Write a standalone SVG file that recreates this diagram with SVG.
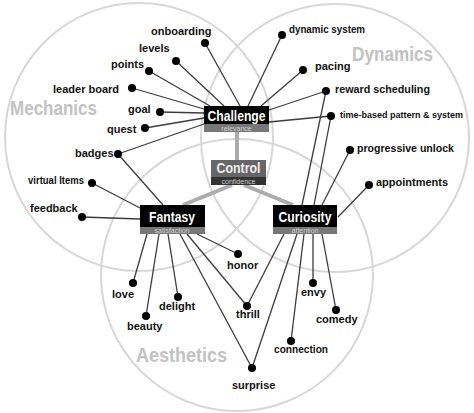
<svg xmlns="http://www.w3.org/2000/svg" width="474" height="413" viewBox="0 0 474 413">
<style>
.c{fill:none;stroke:#d7d7d7;stroke-width:2}
.t{font-family:"Liberation Sans",Arial,sans-serif;font-weight:bold;fill:#c2c2c2;font-size:19.5px}
.l{font-family:"Liberation Sans",Arial,sans-serif;font-weight:bold;font-size:11px;fill:#111}
.d{fill:#000}
.e{stroke:#3c3c3c;stroke-width:1.3;fill:none}
.k{stroke:#ababab;stroke-width:4;fill:none}
.nt{font-family:"Liberation Sans",Arial,sans-serif;font-weight:bold;font-size:14px;fill:#fff;text-anchor:middle}
.st{font-family:"Liberation Sans",Arial,sans-serif;font-size:7px;fill:#cfcfcf;text-anchor:middle}
</style>
<rect width="474" height="413" fill="#fff"/>
<g id="circles">
<circle class="c" cx="139" cy="137" r="134"/>
<circle class="c" cx="335" cy="138" r="134"/>
<circle class="c" cx="237" cy="275" r="136"/>
<text class="t" x="10" y="115" textLength="87" lengthAdjust="spacingAndGlyphs">Mechanics</text>
<text class="t" x="352" y="61" textLength="81" lengthAdjust="spacingAndGlyphs">Dynamics</text>
<text class="t" x="136" y="362" textLength="91" lengthAdjust="spacingAndGlyphs">Aesthetics</text>
</g>
<g id="connectors">
<line class="k" x1="237" y1="132" x2="237" y2="160"/>
<line class="k" x1="232" y1="185" x2="183" y2="205"/>
<line class="k" x1="244" y1="185" x2="293" y2="205"/>
<line class="e" x1="205" y1="43" x2="240" y2="106"/>
<line class="e" x1="176" y1="61" x2="224" y2="106"/>
<line class="e" x1="149" y1="71" x2="210" y2="106"/>
<line class="e" x1="132" y1="88" x2="204" y2="109"/>
<line class="e" x1="160" y1="112" x2="204" y2="113"/>
<line class="e" x1="145" y1="128" x2="204" y2="118"/>
<line class="e" x1="118" y1="154" x2="204" y2="124"/>
<line class="e" x1="282" y1="35" x2="248" y2="106"/>
<line class="e" x1="303" y1="70" x2="261" y2="106"/>
<line class="e" x1="326" y1="91" x2="269" y2="110"/>
<line class="e" x1="331" y1="116" x2="269" y2="122"/>
<line class="e" x1="118" y1="154" x2="163" y2="205"/>
<line class="e" x1="92" y1="183" x2="140" y2="208"/>
<line class="e" x1="82" y1="217" x2="140" y2="219"/>
<line class="e" x1="147" y1="234" x2="133" y2="283"/>
<line class="e" x1="159" y1="234" x2="146" y2="316"/>
<line class="e" x1="168" y1="234" x2="178" y2="297"/>
<line class="e" x1="180" y1="234" x2="252" y2="368"/>
<line class="e" x1="187" y1="234" x2="247" y2="306"/>
<line class="e" x1="197" y1="234" x2="238" y2="254"/>
<line class="e" x1="326" y1="91" x2="302" y2="205"/>
<line class="e" x1="331" y1="116" x2="314" y2="205"/>
<line class="e" x1="350" y1="150" x2="322" y2="205"/>
<line class="e" x1="369" y1="185" x2="338" y2="217"/>
<line class="e" x1="284" y1="234" x2="247" y2="306"/>
<line class="e" x1="297" y1="234" x2="252" y2="368"/>
<line class="e" x1="304" y1="234" x2="291" y2="341"/>
<line class="e" x1="313" y1="234" x2="313" y2="283"/>
<line class="e" x1="322" y1="234" x2="336" y2="310"/>
</g>
<g id="challenge">
<rect x="204" y="106" width="65" height="18" fill="#000"/>
<rect x="204" y="124" width="65" height="8" fill="#777"/>
<text class="nt" x="236.5" y="120.5" textLength="58" lengthAdjust="spacingAndGlyphs">Challenge</text>
<text class="st" x="236.5" y="130.5">relevance</text>
</g>
<g id="control">
<rect x="211" y="160" width="55" height="17" fill="#666"/>
<rect x="211" y="177" width="55" height="8" fill="#333"/>
<text class="nt" x="238.5" y="173" textLength="44" lengthAdjust="spacingAndGlyphs" style="fill:#eee">Control</text>
<text class="st" x="238.5" y="183.5">confidence</text>
</g>
<g id="fantasy">
<rect x="140" y="205" width="65" height="22" fill="#000"/>
<rect x="140" y="227" width="65" height="7" fill="#777"/>
<text class="nt" x="172" y="222" textLength="46" lengthAdjust="spacingAndGlyphs">Fantasy</text>
<text class="st" x="172" y="233">satisfaction</text>
</g>
<g id="curiosity">
<rect x="273" y="205" width="64" height="22" fill="#000"/>
<rect x="273" y="227" width="64" height="7" fill="#777"/>
<text class="nt" x="305" y="222" textLength="53" lengthAdjust="spacingAndGlyphs">Curiosity</text>
<text class="st" x="305" y="233">attention</text>
</g>
<g id="onboarding"><circle class="d" cx="205" cy="43" r="4"/><text class="l" x="151" y="35">onboarding</text></g>
<g id="levels"><circle class="d" cx="176" cy="61" r="4"/><text class="l" x="139" y="52">levels</text></g>
<g id="points"><circle class="d" cx="149" cy="71" r="4"/><text class="l" x="111" y="68">points</text></g>
<g id="leader-board"><circle class="d" cx="132" cy="88" r="4"/><text class="l" x="53" y="93">leader board</text></g>
<g id="goal"><circle class="d" cx="160" cy="112" r="4"/><text class="l" x="128" y="113">goal</text></g>
<g id="quest"><circle class="d" cx="145" cy="128" r="4"/><text class="l" x="107" y="133">quest</text></g>
<g id="badges"><circle class="d" cx="118" cy="154" r="4"/><text class="l" x="75" y="157">badges</text></g>
<g id="virtual-items"><circle class="d" cx="92" cy="183" r="4"/><text class="l" x="28" y="184" textLength="56" lengthAdjust="spacingAndGlyphs">virtual Items</text></g>
<g id="feedback"><circle class="d" cx="82" cy="217" r="4"/><text class="l" x="30" y="212">feedback</text></g>
<g id="dynamic-system"><circle class="d" cx="282" cy="35" r="4"/><text class="l" x="289" y="33" textLength="76" lengthAdjust="spacingAndGlyphs">dynamic system</text></g>
<g id="pacing"><circle class="d" cx="303" cy="70" r="4"/><text class="l" x="315" y="70">pacing</text></g>
<g id="reward-scheduling"><circle class="d" cx="326" cy="91" r="4"/><text class="l" x="335" y="93" textLength="95" lengthAdjust="spacingAndGlyphs">reward scheduling</text></g>
<g id="time-based"><circle class="d" cx="331" cy="116" r="4"/><text class="l" x="340" y="118" style="font-size:9.2px" textLength="123" lengthAdjust="spacingAndGlyphs">time-based pattern &amp; system</text></g>
<g id="progressive-unlock"><circle class="d" cx="350" cy="150" r="4"/><text class="l" x="357" y="152" textLength="97" lengthAdjust="spacingAndGlyphs">progressive unlock</text></g>
<g id="appointments"><circle class="d" cx="369" cy="185" r="4"/><text class="l" x="376" y="186">appointments</text></g>
<g id="love"><circle class="d" cx="133" cy="283" r="4"/><text class="l" x="112" y="298">love</text></g>
<g id="beauty"><circle class="d" cx="146" cy="316" r="4"/><text class="l" x="127" y="330">beauty</text></g>
<g id="delight"><circle class="d" cx="178" cy="297" r="4"/><text class="l" x="159" y="310">delight</text></g>
<g id="honor"><circle class="d" cx="238" cy="254" r="4"/><text class="l" x="227" y="269">honor</text></g>
<g id="thrill"><circle class="d" cx="247" cy="306" r="4"/><text class="l" x="236" y="318">thrill</text></g>
<g id="surprise"><circle class="d" cx="252" cy="368" r="4"/><text class="l" x="232" y="389">surprise</text></g>
<g id="connection"><circle class="d" cx="291" cy="341" r="4"/><text class="l" x="274" y="353" textLength="54" lengthAdjust="spacingAndGlyphs">connection</text></g>
<g id="envy"><circle class="d" cx="313" cy="283" r="4"/><text class="l" x="301" y="296">envy</text></g>
<g id="comedy"><circle class="d" cx="336" cy="310" r="4"/><text class="l" x="316" y="323">comedy</text></g>
</svg>
